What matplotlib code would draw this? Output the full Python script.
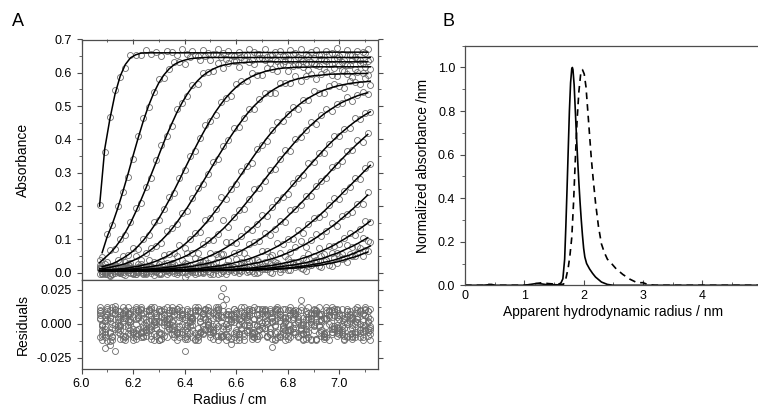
import matplotlib.pyplot as plt
import numpy as np
from matplotlib.ticker import MultipleLocator, FixedLocator, FormatStrFormatter

plt.rcParams["font.family"] = ["Liberation Sans", "DejaVu Sans"]
plt.rcParams["axes.unicode_minus"] = False

# radial positions of the absorbance scans (cm); odd and even scans are
# sampled on grids offset by half a step
radius_odd = np.round(np.arange(6.07, 7.1101, 0.02), 2)
radius_even = np.round(np.arange(6.08, 7.1201, 0.02), 2)

# fitted absorbance of each scan (left boundary first)
scan01 = [0.200, 0.371, 0.461, 0.536, 0.590, 0.625, 0.645, 0.654, 0.659, 0.660,
          0.660, 0.660, 0.660, 0.660, 0.660, 0.660, 0.660, 0.660, 0.660, 0.660,
          0.660, 0.660, 0.660, 0.660, 0.660, 0.660, 0.660, 0.660, 0.661, 0.661,
          0.661, 0.661, 0.661, 0.661, 0.661, 0.661, 0.661, 0.661, 0.661, 0.661,
          0.661, 0.661, 0.661, 0.662, 0.662, 0.662, 0.662, 0.662, 0.662, 0.662,
          0.662, 0.662, 0.662]
scan02 = [0.060, 0.109, 0.147, 0.192, 0.242, 0.295, 0.351, 0.405, 0.456, 0.501,
          0.539, 0.570, 0.594, 0.612, 0.625, 0.633, 0.638, 0.642, 0.644, 0.645,
          0.646, 0.646, 0.646, 0.646, 0.646, 0.646, 0.646, 0.646, 0.646, 0.646,
          0.646, 0.646, 0.646, 0.646, 0.646, 0.646, 0.646, 0.646, 0.646, 0.646,
          0.646, 0.646, 0.646, 0.646, 0.646, 0.646, 0.646, 0.646, 0.646, 0.646,
          0.646, 0.646, 0.646]
scan03 = [0.030, 0.044, 0.058, 0.075, 0.096, 0.121, 0.149, 0.182, 0.217, 0.254,
          0.294, 0.333, 0.373, 0.412, 0.447, 0.481, 0.510, 0.536, 0.558, 0.576,
          0.591, 0.602, 0.611, 0.618, 0.623, 0.626, 0.629, 0.630, 0.631, 0.632,
          0.633, 0.633, 0.633, 0.633, 0.633, 0.633, 0.633, 0.633, 0.633, 0.633,
          0.633, 0.633, 0.633, 0.633, 0.633, 0.633, 0.633, 0.633, 0.633, 0.633,
          0.633, 0.633, 0.633]
scan04 = [0.018, 0.022, 0.027, 0.034, 0.043, 0.053, 0.065, 0.080, 0.097, 0.117,
          0.139, 0.163, 0.190, 0.218, 0.248, 0.279, 0.311, 0.342, 0.373, 0.403,
          0.431, 0.458, 0.483, 0.505, 0.525, 0.542, 0.557, 0.570, 0.580, 0.589,
          0.596, 0.601, 0.606, 0.609, 0.612, 0.614, 0.615, 0.616, 0.617, 0.617,
          0.617, 0.618, 0.618, 0.618, 0.618, 0.618, 0.618, 0.618, 0.618, 0.618,
          0.618, 0.618, 0.618]
scan05 = [0.012, 0.013, 0.016, 0.019, 0.023, 0.027, 0.033, 0.040, 0.048, 0.058,
          0.069, 0.082, 0.097, 0.113, 0.131, 0.151, 0.173, 0.195, 0.220, 0.245,
          0.271, 0.297, 0.323, 0.349, 0.374, 0.399, 0.422, 0.444, 0.465, 0.484,
          0.501, 0.516, 0.530, 0.542, 0.552, 0.561, 0.568, 0.575, 0.580, 0.584,
          0.587, 0.590, 0.592, 0.593, 0.595, 0.596, 0.596, 0.597, 0.597, 0.597,
          0.598, 0.598, 0.598]
scan06 = [0.008, 0.009, 0.010, 0.011, 0.012, 0.014, 0.017, 0.019, 0.023, 0.027,
          0.032, 0.038, 0.045, 0.053, 0.063, 0.073, 0.085, 0.099, 0.113, 0.130,
          0.147, 0.166, 0.186, 0.206, 0.228, 0.250, 0.273, 0.295, 0.318, 0.341,
          0.363, 0.384, 0.405, 0.424, 0.442, 0.459, 0.475, 0.489, 0.502, 0.514,
          0.524, 0.533, 0.541, 0.548, 0.553, 0.558, 0.562, 0.565, 0.568, 0.570,
          0.572, 0.573, 0.575]
scan07 = [0.007, 0.007, 0.008, 0.008, 0.009, 0.010, 0.011, 0.012, 0.014, 0.016,
          0.018, 0.021, 0.024, 0.028, 0.033, 0.039, 0.045, 0.052, 0.061, 0.070,
          0.080, 0.091, 0.104, 0.118, 0.132, 0.148, 0.165, 0.182, 0.201, 0.220,
          0.239, 0.259, 0.279, 0.299, 0.319, 0.339, 0.358, 0.376, 0.394, 0.411,
          0.428, 0.443, 0.457, 0.470, 0.482, 0.492, 0.502, 0.511, 0.518, 0.525,
          0.531, 0.536, 0.540]
scan08 = [0.006, 0.007, 0.007, 0.007, 0.007, 0.008, 0.008, 0.009, 0.010, 0.011,
          0.012, 0.013, 0.015, 0.017, 0.019, 0.022, 0.025, 0.029, 0.033, 0.038,
          0.044, 0.051, 0.058, 0.066, 0.075, 0.085, 0.096, 0.107, 0.120, 0.133,
          0.147, 0.162, 0.178, 0.194, 0.211, 0.229, 0.246, 0.264, 0.282, 0.300,
          0.318, 0.335, 0.352, 0.369, 0.385, 0.400, 0.415, 0.428, 0.441, 0.453,
          0.464, 0.474, 0.483]
scan09 = [0.006, 0.006, 0.006, 0.006, 0.007, 0.007, 0.007, 0.007, 0.008, 0.008,
          0.009, 0.009, 0.010, 0.011, 0.012, 0.014, 0.015, 0.017, 0.019, 0.022,
          0.025, 0.028, 0.032, 0.037, 0.042, 0.048, 0.055, 0.062, 0.070, 0.079,
          0.088, 0.099, 0.110, 0.122, 0.134, 0.148, 0.162, 0.177, 0.192, 0.208,
          0.224, 0.241, 0.257, 0.274, 0.291, 0.308, 0.325, 0.341, 0.357, 0.372,
          0.387, 0.401, 0.415]
scan10 = [0.006, 0.006, 0.006, 0.006, 0.006, 0.006, 0.006, 0.007, 0.007, 0.007,
          0.007, 0.007, 0.008, 0.008, 0.009, 0.009, 0.010, 0.011, 0.012, 0.013,
          0.015, 0.017, 0.019, 0.021, 0.024, 0.027, 0.031, 0.035, 0.039, 0.044,
          0.050, 0.056, 0.063, 0.071, 0.079, 0.088, 0.098, 0.108, 0.119, 0.131,
          0.144, 0.157, 0.170, 0.184, 0.199, 0.214, 0.229, 0.245, 0.260, 0.276,
          0.291, 0.307, 0.322]
scan11 = [0.006, 0.006, 0.006, 0.006, 0.006, 0.006, 0.006, 0.006, 0.006, 0.006,
          0.006, 0.006, 0.006, 0.006, 0.007, 0.007, 0.008, 0.008, 0.008, 0.009,
          0.010, 0.011, 0.012, 0.013, 0.014, 0.016, 0.017, 0.019, 0.022, 0.025,
          0.028, 0.031, 0.035, 0.040, 0.044, 0.050, 0.056, 0.063, 0.070, 0.078,
          0.086, 0.095, 0.105, 0.116, 0.127, 0.138, 0.150, 0.163, 0.176, 0.190,
          0.204, 0.218, 0.233]
scan12 = [0.006, 0.006, 0.006, 0.006, 0.006, 0.006, 0.006, 0.006, 0.006, 0.006,
          0.006, 0.006, 0.006, 0.006, 0.006, 0.006, 0.006, 0.006, 0.007, 0.007,
          0.007, 0.008, 0.008, 0.009, 0.009, 0.010, 0.011, 0.012, 0.013, 0.014,
          0.016, 0.018, 0.020, 0.022, 0.025, 0.028, 0.031, 0.035, 0.039, 0.044,
          0.049, 0.055, 0.061, 0.068, 0.075, 0.083, 0.092, 0.101, 0.111, 0.121,
          0.132, 0.143, 0.155]
scan13 = [0.006, 0.006, 0.006, 0.006, 0.006, 0.006, 0.006, 0.006, 0.006, 0.006,
          0.006, 0.006, 0.006, 0.007, 0.007, 0.007, 0.007, 0.007, 0.007, 0.007,
          0.007, 0.007, 0.007, 0.007, 0.008, 0.008, 0.008, 0.009, 0.009, 0.010,
          0.011, 0.012, 0.013, 0.014, 0.016, 0.018, 0.020, 0.022, 0.024, 0.027,
          0.030, 0.034, 0.038, 0.042, 0.047, 0.053, 0.058, 0.065, 0.072, 0.079,
          0.087, 0.096, 0.105]
scan14 = [0.006, 0.006, 0.006, 0.006, 0.006, 0.006, 0.006, 0.006, 0.006, 0.006,
          0.006, 0.006, 0.006, 0.006, 0.006, 0.006, 0.006, 0.006, 0.007, 0.007,
          0.007, 0.007, 0.007, 0.007, 0.007, 0.007, 0.007, 0.008, 0.008, 0.008,
          0.009, 0.010, 0.010, 0.011, 0.012, 0.013, 0.014, 0.016, 0.018, 0.020,
          0.022, 0.025, 0.027, 0.031, 0.034, 0.038, 0.043, 0.048, 0.053, 0.059,
          0.066, 0.072, 0.080]
scan15 = [0.006, 0.006, 0.006, 0.006, 0.006, 0.006, 0.006, 0.006, 0.006, 0.006,
          0.006, 0.006, 0.006, 0.006, 0.006, 0.006, 0.006, 0.006, 0.006, 0.006,
          0.006, 0.007, 0.007, 0.007, 0.007, 0.007, 0.007, 0.007, 0.008, 0.008,
          0.008, 0.008, 0.009, 0.009, 0.010, 0.011, 0.012, 0.013, 0.014, 0.015,
          0.017, 0.019, 0.021, 0.023, 0.026, 0.029, 0.032, 0.036, 0.041, 0.045,
          0.050, 0.056, 0.062]

# fit residuals of each scan, in units of 0.001 absorbance
resid01 = [3, -8, 5, 11, -2, -10, 7, 0, -6, 9, -4, 2, -11, 6, 1, -7, 10, -3, 4, -9,
           8, -1, -5, 12, -2, 6, -10, 3, -7, 9, 0, -4, 11, -8, 2, 5, -12, 7, -3, 10,
           -6, 1, 8, -9, 4, -2, 11, -5, 6, -10, 3, -1, 9]
resid02 = [-12, 6, -3, 9, 1, -7, -10, 4, 8, -5, 2, 11, -9, 0, 7, -2, -11, 5, 9, -6,
           3, -8, 10, 1, -4, 7, -12, 2, 6, -9, 11, -3, 0, 8, -10, 4, -6, 9, 2, -11,
           5, -1, 7, -8, 10, -4, 3, -9, 6, 0, -7, 12, -5]
resid03 = [8, -18, 10, -4, 6, -9, 2, 12, -7, 3, -11, 5, 9, -2, -8, 11, 0, -6, 4, -10,
           7, 1, -5, 10, -9, 3, 6, -12, 8, -1, -7, 11, 4, -3, 9, -10, 2, 6, -8, 12,
           -4, 0, -11, 7, 3, -6, 10, -2, -9, 5, 8, -3, 1]
resid04 = [-5, 9, -12, 3, 7, -1, 10, -8, 4, -3, 12, -6, 1, 8, -10, 5, -2, 9, -7, 2,
           11, -4, -9, 6, 0, -11, 8, 4, -5, 10, -2, -8, 7, 1, -6, 11, -9, 3, 5, -1,
           -10, 8, 2, -7, 9, -3, 6, -12, 4, -6, 10, -1, -8]
resid05 = [10, 2, -7, -20, 9, 4, -5, 11, -10, 1, 6, -3, -8, 12, 2, -6, 7, -11, 3, 9,
           -4, 0, 8, -9, 5, -2, 11, -7, -1, 6, -10, 4, 9, -3, -12, 7, 1, -5, 10, -8,
           3, 6, -11, 2, 8, -4, -7, 11, 0, -9, 5, 2, -6]
resid06 = [-2, -13, 8, 1, -9, 12, -4, 6, -6, 10, -1, -12, 7, 3, -5, 9, -10, 2, 6, -7,
           10, -3, 5, 20, -8, 1, -6, 9, 3, -11, 7, -2, -9, 5, 10, -4, 0, 8, -10, 4,
           -6, 11, -1, -8, 6, 9, -3, -11, 7, 2, -5, 10, -12]
resid07 = [6, -4, 2, 13, -11, -2, 9, -7, 12, -5, 3, -9, 10, 0, -4, 11, -8, 6, -1, -12,
           5, 8, -6, -2, 26, -10, 3, 7, -9, 1, 12, -5, -3, 9, -7, 2, 11, -10, 6, -4,
           -1, 8, -12, 3, 10, -6, 5, -2, 9, -11, 1, 7, -4]
resid08 = [-9, 11, 0, -6, 4, 8, -12, 5, -1, 9, -8, 2, 11, -4, 6, -10, 3, -7, 12, 1,
           -5, 9, -3, -10, 18, 6, -8, 2, 10, -6, -1, 11, -9, 4, 7, -3, -11, 5, 1, -7,
           12, -2, 6, -10, 0, 9, -5, 3, -8, 11, -4, 6, -2]
resid09 = [12, -6, 4, -1, -8, 10, 3, -11, 7, -2, -9, 6, 1, -5, 12, -7, 4, 9, -10, -3,
           8, 2, -6, 11, 14, -9, 5, -1, -12, 8, 3, -4, 10, -8, -2, 6, -9, 12, 0, -5,
           7, -11, 4, 2, -7, 10, -1, -6, 9, -3, 12, -10, 5]
resid10 = [-1, 7, -10, 5, 12, -3, -6, 9, -9, 2, 8, -12, 4, 10, -2, -7, 5, 1, -11, 9,
           -4, 6, 12, -8, 0, -15, 9, -3, 5, -7, -11, 8, 2, -17, 11, -1, 4, -6, 9, -12,
           3, 7, -2, -9, 5, 11, -8, 1, -4, 8, -10, 6, 3]
resid11 = [4, -10, -16, 8, -5, 6, 1, -9, 10, -4, 11, 0, -7, 3, 9, -12, 6, -1, -5, 10,
           -8, 12, -2, 4, -9, 7, 1, -10, 5, 11, -6, 2, -3, 8, -11, 9, -5, -1, 7, 17,
           -8, 4, 10, -6, -2, 12, -9, 6, 1, -7, 3, -12, 9]
resid12 = [-7, 3, 12, -2, -11, 7, 5, -4, -10, 11, 1, -8, 6, -3, 9, 2, -20, 8, -12, 4,
           11, -6, 0, -9, 7, 3, -5, 12, -1, -8, 6, 9, -10, 2, 4, -7, 10, -3, -9, 1,
           8, -5, 12, -11, 6, -2, -6, 4, 9, -8, 0, 11, -3]
resid13 = [9, -2, -6, 10, 3, -12, 8, -5, 2, -9, 12, -3, 5, -10, -1, 7, -6, 11, 2, -8,
           -2, 10, -11, 6, -4, 9, -7, 0, 12, -5, 3, -9, 6, 11, -1, -8, 4, 10, -6, -3,
           9, -12, 1, 7, -10, 5, 2, -8, 11, -1, -6, 8, -9]
resid14 = [0, 12, -9, -4, 8, 2, -7, 10, -3, 6, -12, 9, -1, 4, -8, 12, -5, -2, 10, -6,
           3, -10, 7, 5, -12, 2, 8, -4, -6, 10, -9, 1, 7, -11, 12, -2, -5, 9, 3, -8,
           -1, 10, -7, 4, -12, 6, 8, -3, 2, -10, 9, -5, 11]
resid15 = [-10, 5, -13, 7, -1, 9, -8, 3, 11, -6, -2, 8, -11, 1, 10, -4, 7, -9, 5, 12,
           -7, -1, 4, -12, 9, -3, 11, -8, 6, -2, -10, 7, 1, -6, 11, -9, 5, -4, 8, -1,
           -11, 3, 9, -5, 12, -8, -3, 6, -10, 4, 10, -6, 2]

scans = [scan01, scan02, scan03, scan04, scan05, scan06, scan07, scan08,
         scan09, scan10, scan11, scan12, scan13, scan14, scan15]
resids = [resid01, resid02, resid03, resid04, resid05, resid06, resid07, resid08,
          resid09, resid10, resid11, resid12, resid13, resid14, resid15]
grids = [radius_odd if i % 2 == 0 else radius_even for i in range(len(scans))]

# panel B: size distributions (nm, normalized absorbance)
rh_solid = [0.0, 0.30, 0.45, 0.50, 1.00, 1.10, 1.20, 1.30, 1.40, 1.50, 1.57,
            1.62, 1.65, 1.68, 1.70, 1.72, 1.74, 1.76, 1.78, 1.80, 1.81, 1.82,
            1.84, 1.86, 1.88, 1.90, 1.92, 1.94, 1.96, 1.98, 2.00, 2.02, 2.05,
            2.10, 2.15, 2.20, 2.30, 2.40, 2.50, 3.00, 5.00]
abs_solid = [0.0, 0.0, 0.004, 0.0, 0.0, 0.004, 0.008, 0.006, 0.002, 0.003, 0.002,
             0.012, 0.030, 0.120, 0.270, 0.440, 0.620, 0.800, 0.930, 0.995, 1.000, 0.990,
             0.920, 0.800, 0.680, 0.570, 0.470, 0.380, 0.300, 0.230, 0.170, 0.130, 0.100,
             0.075, 0.055, 0.038, 0.015, 0.004, 0.0, 0.0, 0.0]
rh_dashed = [0.0, 0.30, 0.40, 0.50, 1.00, 1.10, 1.20, 1.30, 1.40, 1.50, 1.58,
             1.66, 1.70, 1.74, 1.77, 1.80, 1.83, 1.86, 1.89, 1.92, 1.95, 1.98,
             2.01, 2.04, 2.07, 2.10, 2.13, 2.16, 2.20, 2.25, 2.30, 2.35, 2.40,
             2.47, 2.55, 2.66, 2.78, 2.90, 3.00, 3.08, 3.20, 5.00]
abs_dashed = [0.0, 0.0, 0.004, 0.0, 0.0, 0.003, 0.008, 0.012, 0.008, 0.006, 0.004,
              0.005, 0.030, 0.080, 0.140, 0.220, 0.380, 0.580, 0.760, 0.890, 0.970, 0.990,
              0.970, 0.910, 0.800, 0.690, 0.580, 0.490, 0.380, 0.270, 0.190, 0.150, 0.120,
              0.100, 0.075, 0.050, 0.028, 0.012, 0.012, 0.004, 0.0, 0.0]
rh_ticks = [0, 1, 2, 3, 4]

W, H = 758, 409
fig = plt.figure(figsize=(W / 100, H / 100), dpi=100)


def px_axes(left, top, right, bottom):
    return fig.add_axes([left / W, 1 - bottom / H, (right - left) / W, (bottom - top) / H])


frame = "0.3"
ax = px_axes(81.5, 39.5, 378, 280)
ax_res = px_axes(81.5, 280, 378, 368.5)
ax_b = px_axes(465, 45.7, 761.6, 285.3)

# --- panel A, boundaries ---
circle = dict(linestyle="none", marker="o", ms=4.3, mfc="none", mec="0.42", mew=0.6)
for r, fit, res in zip(grids, scans, resids):
    obs = np.array(fit) + np.array(res) * 0.001
    ax.plot(r, obs, zorder=2, **circle)
for r, fit in zip(grids, scans):
    ax.plot(r, fit, color="black", lw=1.1, zorder=3)

ax.set_xlim(6.0, 7.15)
ax.set_ylim(-0.022, 0.7)
ax.xaxis.set_major_locator(MultipleLocator(0.2))
ax.xaxis.set_minor_locator(MultipleLocator(0.1))
ax.yaxis.set_major_locator(MultipleLocator(0.1))
ax.yaxis.set_minor_locator(MultipleLocator(0.05))
ax.yaxis.set_major_formatter(FormatStrFormatter("%.1f"))
ax.tick_params(axis="x", which="both", direction="out", bottom=True, top=False,
               labelbottom=False, color=frame)
ax.tick_params(axis="y", which="both", direction="out", left=True, right=True,
               labelsize=9, color=frame)
ax.tick_params(which="major", length=3.5)
ax.tick_params(which="minor", length=2)
ax.set_ylabel("Absorbance", fontsize=10)
ax.yaxis.set_label_coords(-0.175, 0.5)
top = ax.secondary_xaxis("top")
top.xaxis.set_major_locator(MultipleLocator(0.2))
top.xaxis.set_minor_locator(MultipleLocator(0.1))
top.tick_params(which="both", direction="in", labeltop=False, color=frame)
top.tick_params(which="major", length=3.5)
top.tick_params(which="minor", length=2)
top.spines["top"].set_visible(False)

# --- panel A, residuals ---
for r, res in zip(grids, resids):
    ax_res.plot(r, np.array(res) * 0.001, zorder=2, **circle)
ax_res.set_xlim(6.0, 7.15)
ax_res.set_ylim(-0.033, 0.032)
ax_res.xaxis.set_major_locator(MultipleLocator(0.2))
ax_res.xaxis.set_minor_locator(MultipleLocator(0.1))
ax_res.yaxis.set_major_locator(MultipleLocator(0.025))
ax_res.yaxis.set_minor_locator(MultipleLocator(0.0125))
ax_res.xaxis.set_major_formatter(FormatStrFormatter("%.1f"))
ax_res.yaxis.set_major_formatter(FormatStrFormatter("%.3f"))
ax_res.tick_params(axis="x", which="both", direction="out", top=False,
                   labelsize=9, color=frame)
ax_res.tick_params(axis="y", which="both", direction="out", left=True, right=True,
                   labelsize=9, color=frame)
ax_res.tick_params(which="major", length=3.5)
ax_res.tick_params(which="minor", length=2)
ax_res.set_ylabel("Residuals", fontsize=10)
ax_res.yaxis.set_label_coords(-0.175, 0.5)
ax_res.set_xlabel("Radius / cm", fontsize=10, labelpad=2)

for a in (ax, ax_res):
    for s in a.spines.values():
        s.set_color(frame)
        s.set_linewidth(0.9)

# --- panel B ---
ax_b.plot(rh_solid, abs_solid, color="black", lw=1.2)
ax_b.plot(rh_dashed, abs_dashed, color="black", lw=1.2, linestyle=(0, (4, 3)))
ax_b.set_xlim(0, 5)
ax_b.set_ylim(0, 1.1)
ax_b.xaxis.set_major_locator(FixedLocator(rh_ticks))
ax_b.xaxis.set_minor_locator(MultipleLocator(0.5))
ax_b.yaxis.set_major_locator(MultipleLocator(0.2))
ax_b.yaxis.set_minor_locator(MultipleLocator(0.1))
ax_b.xaxis.set_major_formatter(FormatStrFormatter("%d"))
ax_b.yaxis.set_major_formatter(FormatStrFormatter("%.1f"))
ax_b.tick_params(axis="x", which="both", direction="in", labelsize=9, color=frame)
ax_b.tick_params(axis="y", which="both", direction="out", labelsize=9, color=frame)
ax_b.tick_params(which="major", length=3.5)
ax_b.tick_params(which="minor", length=2)
ax_b.spines["right"].set_visible(False)
for s in ("left", "bottom", "top"):
    ax_b.spines[s].set_color(frame)
    ax_b.spines[s].set_linewidth(0.9)
ax_b.set_ylabel("Normalized absorbance /nm", fontsize=10, labelpad=6)
ax_b.set_xlabel("Apparent hydrodynamic radius / nm", fontsize=10, labelpad=2)

fig.text(12 / W, 1 - 21.5 / H, "A", fontsize=13, va="center", ha="left")
fig.text(443 / W, 1 - 21.5 / H, "B", fontsize=13, va="center", ha="left")

fig.savefig("out.png", dpi=100)
